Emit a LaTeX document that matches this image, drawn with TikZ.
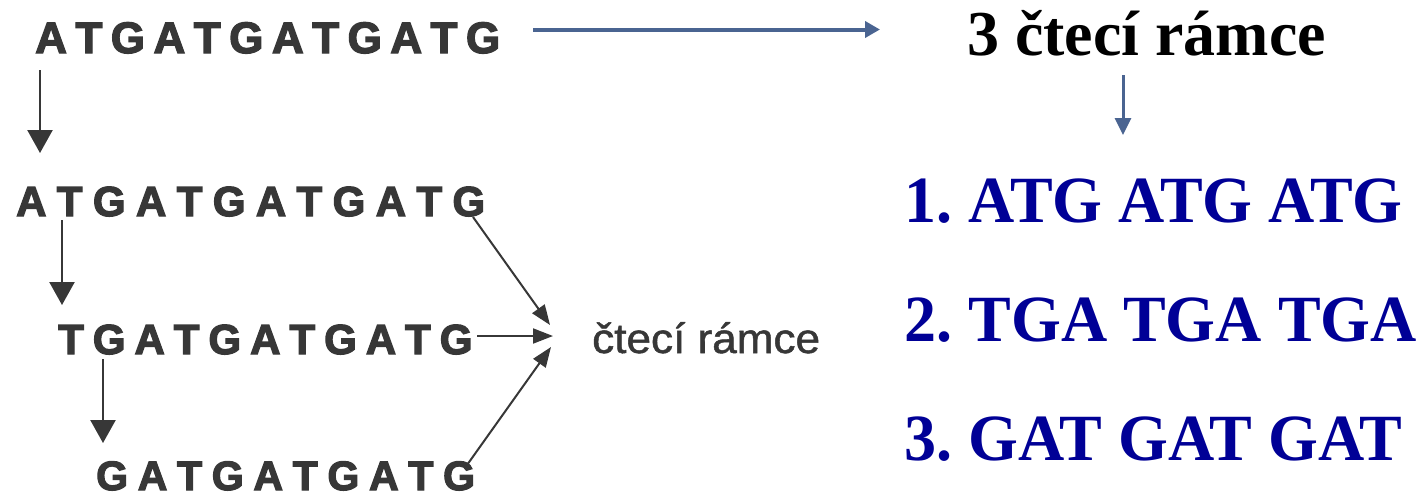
\documentclass[tikz,border=0pt]{standalone}
\usepackage{fontspec}
\usetikzlibrary{arrows.meta}
\newfontfamily\dnafont{Liberation Sans Bold}[FakeBold=3]
\newfontfamily\lblfont{Liberation Sans}[FakeBold=1.2, FakeStretch=1.05]
\newfontfamily\tnrfont{Liberation Serif}
\newfontfamily\framefont{Liberation Serif Bold}[FakeStretch=0.97]
\definecolor{arrowblue}{RGB}{74,100,145}
\definecolor{framblue}{RGB}{0,0,150}
\definecolor{scangray}{RGB}{55,55,55}
\newdimen\lsp
\def\ls#1#2{\lsp=#1\relax\lsfirst#2\relax}
\def\lsfirst#1{#1\lsrest}
\def\lsrest#1{\ifx#1\relax\else\kern\lsp#1\expandafter\lsrest\fi}
\tikzset{
  dna/.style={anchor=base west, inner sep=0pt, text=scangray},
  frame/.style={anchor=base west, inner sep=0pt, text=framblue, font=\framefont\fontsize{66}{70}\selectfont},
  grayarrow/.style={draw=scangray, line width=2.4pt, -{Triangle[width=25pt,length=23pt]}},
  convarrow/.style={draw=scangray, line width=2pt, -{Triangle[width=15pt,length=20pt]}},
  bluearrow/.style={draw=arrowblue, line width=4pt, -{Triangle[width=16pt,length=15pt]}},
  bluedown/.style={draw=arrowblue, line width=3pt, -{Triangle[width=16pt,length=17pt]}}
}
\begin{document}
\begin{tikzpicture}[x=1pt,y=-1pt]
\useasboundingbox (0,0) rectangle (1419,496);
% left DNA rows
\node[dna, font=\dnafont\fontsize{44}{50}\selectfont] (r1) at (35,53) {\ls{8.5pt}{ATGATGATGATG}};
\node[dna, font=\dnafont\fontsize{42}{50}\selectfont] (r2) at (16,216) {\ls{10.4pt}{ATGATGATGATG}};
\node[dna, font=\dnafont\fontsize{42}{50}\selectfont] (r3) at (58,354) {\ls{9pt}{TGATGATGATG}};
\node[dna, font=\dnafont\fontsize{41}{50}\selectfont] (r4) at (96,490) {\ls{9.7pt}{GATGATGATG}};
\node[dna, font=\lblfont\fontsize{42}{50}\selectfont] (lbl) at (592,353) {čtecí rámce};
% right side
\node[anchor=base west, inner sep=0pt, font=\tnrfont\bfseries\fontsize{64}{70}\selectfont] (title) at (967,55) {3 čtecí rámce};
\node[frame] (f1) at (904,222) {1.\kern-5pt{} ATG ATG ATG};
\node[frame] (f2) at (904,341) {2.\kern-5pt{} TGA TGA TGA};
\node[frame] (f3) at (904,460) {3.\kern-5pt{} GAT GAT GAT};
% connector end points
\coordinate (d1s) at (40,70);   \coordinate (d1e) at (40,153);
\coordinate (d2s) at (62,220);  \coordinate (d2e) at (62,305);
\coordinate (d3s) at (103,359); \coordinate (d3e) at (103,443);
\coordinate (c1s) at (473,217); \coordinate (c1e) at (550,325);
\coordinate (c2s) at (477,336); \coordinate (c2e) at (553,336);
\coordinate (c3s) at (467,465); \coordinate (c3e) at (551,347);
\coordinate (hs) at (533,29.5); \coordinate (he) at (880,29.5);
\coordinate (vs) at (1123,75);  \coordinate (ve) at (1123,135);
% connectors
\draw[grayarrow] (d1s) -- (d1e);
\draw[grayarrow] (d2s) -- (d2e);
\draw[grayarrow] (d3s) -- (d3e);
\draw[convarrow] (c1s) -- (c1e);
\draw[convarrow] (c3s) -- (c3e);
\draw[convarrow] (c2s) -- (c2e);
\draw[bluearrow] (hs) -- (he);
\draw[bluedown] (vs) -- (ve);
\end{tikzpicture}
\end{document}
